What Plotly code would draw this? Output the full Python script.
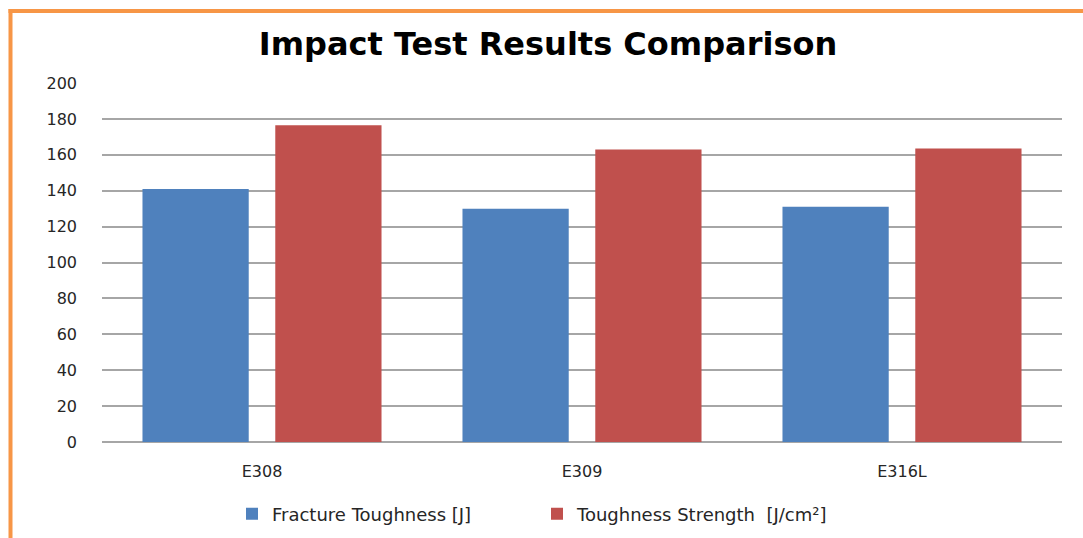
import plotly.graph_objects as go

categories = ["E308", "E309", "E316L"]
fracture_toughness = [141, 130, 131]
toughness_strength = [176.5, 163, 163.5]
series_names = ["Fracture Toughness [J]", "Toughness Strength  [J/cm²]"]

L, R, T, B = 102, 21, 83, 96
W, H = 1083, 538
pw, ph = W - L - R, H - T - B

def px_x(p):
    return (p - L) / pw

def px_y(p):
    return (H - B - p) / ph

fig = go.Figure()
fig.add_trace(go.Bar(x=categories, y=fracture_toughness, name=series_names[0],
                     marker=dict(color="#4F81BD", line=dict(width=0))))
fig.add_trace(go.Bar(x=categories, y=toughness_strength, name=series_names[1],
                     marker=dict(color="#C0504D", line=dict(width=0))))

fig.update_layout(
    width=W, height=H,
    margin=dict(l=L, r=R, t=T, b=B, autoexpand=False),
    paper_bgcolor="white", plot_bgcolor="white",
    barmode="group", bargap=0.17, bargroupgap=0.2,
    title=dict(text="<b>Impact Test Results Comparison</b>", x=548 / W, xanchor="center",
               y=1 - 44 / H, yanchor="middle", yref="container",
               font=dict(family="DejaVu Sans, Verdana, sans-serif", size=32, color="#000000")),
    font=dict(family="DejaVu Sans, Verdana, sans-serif", size=15, color="#262626"),
    legend=dict(orientation="h", x=0.5 - 45 / pw, xanchor="center", y=px_y(514), yanchor="middle",
                font=dict(family="DejaVu Sans, Verdana, sans-serif", size=18, color="#262626"),
                itemwidth=30, traceorder="normal", entrywidth=260, entrywidthmode="pixels"),
    xaxis=dict(showgrid=False, showline=False, zeroline=False, ticks="",
               ticklabelstandoff=18, tickfont=dict(size=16)),
    yaxis=dict(range=[0, 200], dtick=20, showgrid=True, gridcolor="#A6A6A6", gridwidth=1.5,
               zeroline=True, zerolinecolor="#A6A6A6", zerolinewidth=1.5,
               showline=False, ticks="", ticklabelstandoff=24, tickfont=dict(size=16)),
    shapes=[
        dict(type="line", xref="paper", yref="paper", x0=px_x(10.5), x1=px_x(10.5),
             y0=px_y(9), y1=px_y(540), line=dict(color="#F79646", width=4), layer="above"),
        dict(type="line", xref="paper", yref="paper", x0=px_x(8.5), x1=px_x(1085),
             y0=px_y(11), y1=px_y(11), line=dict(color="#F79646", width=4), layer="above"),
    ],
)

fig.write_html("out.html", config={"displayModeBar": False},
               post_script="document.body.style.margin='0';document.body.style.overflow='hidden';")
